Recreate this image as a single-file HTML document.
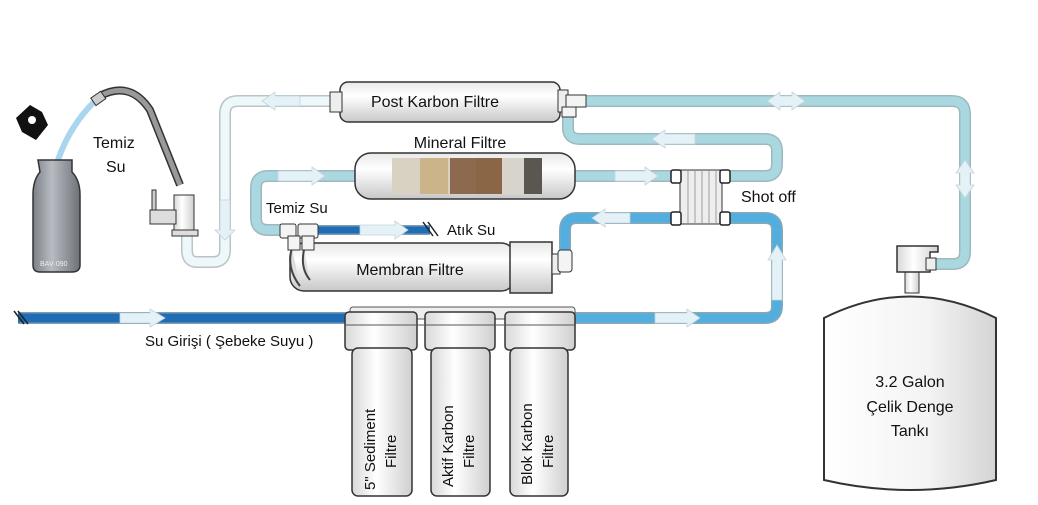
<!DOCTYPE html>
<html><head><meta charset="utf-8"><style>
html,body{margin:0;padding:0;background:#fff;width:1038px;height:505px;overflow:hidden}
svg text{font-family:"Liberation Sans",sans-serif;fill:#111}
</style></head><body>
<svg width="1038" height="505" viewBox="0 0 1038 505" xmlns="http://www.w3.org/2000/svg">
<defs>
<linearGradient id="cyl" x1="0" y1="0" x2="0" y2="1">
<stop offset="0" stop-color="#e8e8e8"/><stop offset="0.35" stop-color="#ffffff"/><stop offset="1" stop-color="#c8c8c8"/></linearGradient>
<linearGradient id="vcyl" x1="0" y1="0" x2="1" y2="0">
<stop offset="0" stop-color="#d8d8d8"/><stop offset="0.4" stop-color="#ffffff"/><stop offset="1" stop-color="#cfcfcf"/></linearGradient>
<linearGradient id="tank" x1="0" y1="0" x2="1" y2="0">
<stop offset="0" stop-color="#ffffff"/><stop offset="0.6" stop-color="#f4f4f4"/><stop offset="1" stop-color="#d4d4d4"/></linearGradient>
<linearGradient id="bottle" x1="0" y1="0" x2="1" y2="0">
<stop offset="0" stop-color="#7c8088"/><stop offset="0.4" stop-color="#b8bcc2"/><stop offset="1" stop-color="#6d7178"/></linearGradient>
</defs>

<!-- pale pipe: post carbon to faucet -->
<g fill="none" stroke-linejoin="round">
<path d="M335,101 H238 Q225,101 225,114 V250 Q225,262 213,262 H197 Q187,262 187,250 V232" stroke="#b9c4c8" stroke-width="12"/>
<path d="M335,101 H238 Q225,101 225,114 V250 Q225,262 213,262 H197 Q187,262 187,250 V232" stroke="#eef7f9" stroke-width="9"/>
<!-- top right teal to tank -->
<path d="M585,101 H952 Q965,101 965,114 V252 Q965,264 953,264 H930" stroke="#9fb8bd" stroke-width="12"/>
<path d="M585,101 H952 Q965,101 965,114 V252 Q965,264 953,264 H930" stroke="#aad8e1" stroke-width="9"/>
<!-- loop from tee to shot off -->
<path d="M568,112 V128 Q568,139 580,139 H765 Q777,139 777,151 V164 Q777,176 765,176 H722" stroke="#9fb8bd" stroke-width="12"/>
<path d="M568,112 V128 Q568,139 580,139 H765 Q777,139 777,151 V164 Q777,176 765,176 H722" stroke="#aad8e1" stroke-width="9"/>
<!-- mineral out -->
<path d="M575,176 H675" stroke="#9fb8bd" stroke-width="12"/>
<path d="M575,176 H675" stroke="#aad8e1" stroke-width="9"/>
<!-- mineral in from membrane -->
<path d="M357,176 H268 Q256,176 256,188 V218 Q256,230 268,230 H282" stroke="#9fb8bd" stroke-width="12"/>
<path d="M357,176 H268 Q256,176 256,188 V218 Q256,230 268,230 H282" stroke="#aad8e1" stroke-width="9"/>
<!-- blue lower loop -->
<path d="M675,218 H577 Q565,218 565,230 V252" stroke="#8aa7b5" stroke-width="12"/>
<path d="M675,218 H577 Q565,218 565,230 V252" stroke="#52aede" stroke-width="9"/>
<path d="M722,218 H765 Q777,218 777,230 V306 Q777,318 765,318 H570" stroke="#8aa7b5" stroke-width="12"/>
<path d="M722,218 H765 Q777,218 777,230 V306 Q777,318 765,318 H570" stroke="#52aede" stroke-width="9"/>
<!-- feed -->
<path d="M18,318 H350" stroke="#7f9cb3" stroke-width="12"/>
<path d="M18,318 H350" stroke="#1f6db5" stroke-width="9"/>
<!-- waste -->
<path d="M315,230 H430" stroke="#7f9cb3" stroke-width="10"/>
<path d="M315,230 H430" stroke="#1f6db5" stroke-width="7"/>
<!-- bottle pipe -->
<path d="M96,100 Q70,125 58,160" stroke="#a9d6ee" stroke-width="6"/>
</g>
<!-- hash marks -->
<g stroke="#222" stroke-width="1.5"><line x1="14" y1="311" x2="24" y2="324"/><line x1="18" y1="311" x2="28" y2="324"/>
<line x1="423" y1="222" x2="433" y2="236"/><line x1="428" y1="222" x2="438" y2="236"/></g>

<!-- arrows -->
<g fill="#e4f2f8" stroke="#c4d4da" stroke-width="0.8">
<polygon points="300,96 275,96 275,92 262,101 275,110 275,106 300,106"/>
<polygon points="220,200 230,200 230,230 235,230 225,240 215,230 220,230"/>
<polygon points="278,171 312,171 312,167 325,176 312,185 312,181 278,181"/>
<polygon points="615,171 645,171 645,167 658,176 645,185 645,181 615,181"/>
<polygon points="695,134 665,134 665,130 652,139 665,148 665,144 695,144" />
<polygon points="630,213 605,213 605,209 592,218 605,227 605,223 630,223"/>
<polygon points="772,300 772,260 768,260 777,245 786,260 782,260 782,300"/>
<polygon points="655,313 687,313 687,309 700,318 687,327 687,323 655,323"/>
<polygon points="120,313 150,313 150,309 165,318 150,327 150,323 120,323"/>
<polygon points="360,225 395,225 395,221 408,230 395,239 395,235 360,235"/>
<polygon points="792,96 780,96 780,92 767,101 780,110 780,106 792,106 792,110 805,101 792,92"/>
<polygon points="960,160 960,148 956,148 965,135 974,148 970,148 970,160 974,160 965,173 956,160" transform="translate(0,25)"/>
</g>

<!-- post carbon filter -->
<rect x="340" y="82" width="220" height="40" rx="8" fill="url(#cyl)" stroke="#333" stroke-width="1.5"/>
<rect x="330" y="92" width="12" height="20" fill="#eee" stroke="#333"/>
<rect x="558" y="90" width="10" height="22" fill="#eee" stroke="#333"/>
<rect x="566" y="95" width="20" height="12" fill="#f4f4f4" stroke="#333"/>
<rect x="562" y="107" width="14" height="10" fill="#f4f4f4" stroke="#333"/>
<text x="435" y="107" font-size="16" text-anchor="middle">Post Karbon Filtre</text>

<!-- mineral filter -->
<text x="460" y="148" font-size="16" text-anchor="middle">Mineral Filtre</text>
<rect x="355" y="153" width="220" height="46" rx="16" fill="url(#cyl)" stroke="#333" stroke-width="1.5"/>
<rect x="392" y="158" width="150" height="36" fill="#d9d2c2"/>
<rect x="420" y="158" width="28" height="36" fill="#cbb48a"/>
<rect x="450" y="158" width="26" height="36" fill="#8d6a4f"/>
<rect x="476" y="158" width="26" height="36" fill="#8a6647"/>
<rect x="502" y="158" width="22" height="36" fill="#d8d4cc"/>
<rect x="524" y="158" width="18" height="36" fill="#5a5650"/>

<!-- shot off -->
<rect x="680" y="170" width="42" height="54" fill="#eee" stroke="#333"/>
<g stroke="#888" stroke-width="0.8"><line x1="688" y1="171" x2="688" y2="223"/><line x1="695" y1="171" x2="695" y2="223"/><line x1="702" y1="171" x2="702" y2="223"/><line x1="709" y1="171" x2="709" y2="223"/><line x1="716" y1="171" x2="716" y2="223"/></g>
<g fill="#fff" stroke="#222" stroke-width="1.5"><rect x="671" y="170" width="10" height="13" rx="2"/><rect x="720" y="170" width="10" height="13" rx="2"/><rect x="671" y="212" width="10" height="13" rx="2"/><rect x="720" y="212" width="10" height="13" rx="2"/></g>
<text x="741" y="202" font-size="16">Shot off</text>

<!-- membrane -->
<text x="266" y="213" font-size="15">Temiz Su</text>
<rect x="290" y="243" width="225" height="48" rx="14" fill="url(#cyl)" stroke="#333" stroke-width="1.5"/>
<rect x="510" y="242" width="42" height="51" fill="url(#cyl)" stroke="#333" stroke-width="1.5"/>
<rect x="552" y="254" width="8" height="20" fill="#eee" stroke="#333"/>
<rect x="558" y="250" width="14" height="22" rx="3" fill="#f4f4f4" stroke="#333"/>
<path d="M292,248 q-6,20 8,38 M304,250 q-4,18 6,30" stroke="#444" stroke-width="2" fill="#ddd"/>
<g fill="#f4f4f4" stroke="#333"><rect x="280" y="224" width="16" height="14" rx="2"/><rect x="298" y="224" width="20" height="14" rx="2"/><rect x="288" y="236" width="12" height="14"/><rect x="302" y="236" width="12" height="14"/></g>
<text x="410" y="275" font-size="16" text-anchor="middle">Membran Filtre</text>
<text x="447" y="235" font-size="15">Atık Su</text>

<!-- filter heads and housings -->
<rect x="350" y="307" width="225" height="12" rx="3" fill="#eee" stroke="#555"/>
<g fill="url(#vcyl)" stroke="#333" stroke-width="1.5">
<rect x="345" y="312" width="72" height="38" rx="4"/>
<rect x="425" y="312" width="70" height="38" rx="4"/>
<rect x="505" y="312" width="70" height="38" rx="4"/>
<rect x="352" y="348" width="60" height="148" rx="6"/>
<rect x="431" y="348" width="59" height="148" rx="6"/>
<rect x="510" y="348" width="58" height="148" rx="6"/>
</g>
<line x1="345" y1="325" x2="575" y2="325" stroke="#555" stroke-width="1"/>
<text font-size="15" transform="translate(375,490) rotate(-90)">5" Sediment</text>
<text font-size="15" transform="translate(396,468) rotate(-90)">Filtre</text>
<text font-size="15" transform="translate(453,487) rotate(-90)">Aktif Karbon</text>
<text font-size="15" transform="translate(474,468) rotate(-90)">Filtre</text>
<text font-size="15" transform="translate(532,485) rotate(-90)">Blok Karbon</text>
<text font-size="15" transform="translate(553,468) rotate(-90)">Filtre</text>
<text x="145" y="346" font-size="15">Su Girişi ( Şebeke Suyu )</text>

<!-- tank -->
<rect x="905" y="268" width="14" height="25" fill="url(#vcyl)" stroke="#333"/>
<path d="M897,246 H938 V252 H930 V272 H897 Z" fill="url(#vcyl)" stroke="#333" stroke-width="1.5"/>
<rect x="926" y="258" width="10" height="12" fill="#eee" stroke="#333"/>
<path d="M824,318 Q910,275 996,318 V480 Q910,500 824,480 Z" fill="url(#tank)" stroke="#333" stroke-width="2"/>
<text x="910" y="387" font-size="16" text-anchor="middle">3.2 Galon</text>
<text x="910" y="412" font-size="16" text-anchor="middle">Çelik Denge</text>
<text x="910" y="436" font-size="16" text-anchor="middle">Tankı</text>

<!-- faucet -->
<path d="M100,96 Q130,80 150,110 L180,185" stroke="#333" stroke-width="8" fill="none"/>
<path d="M100,96 Q130,80 150,110 L180,185" stroke="#999" stroke-width="5" fill="none"/>
<rect x="92" y="94" width="12" height="9" transform="rotate(-35 98 98)" fill="#ccc" stroke="#333"/>
<rect x="174" y="195" width="20" height="35" fill="url(#vcyl)" stroke="#333"/>
<rect x="150" y="210" width="26" height="14" fill="#ddd" stroke="#333"/>
<rect x="152" y="190" width="4" height="20" fill="#ccc" stroke="#333"/>
<rect x="172" y="230" width="26" height="6" fill="#ddd" stroke="#333"/>
<text x="93" y="148" font-size="16">Temiz</text>
<text x="106" y="172" font-size="16">Su</text>

<!-- bottle -->
<path d="M38,160 H72 V172 Q80,180 80,195 V265 Q80,272 72,272 H40 Q33,272 33,265 V195 Q33,180 40,172 Z" fill="url(#bottle)" stroke="#333" stroke-width="1.5"/>
<text x="40" y="266" font-size="7" fill="#eee" style="fill:#eee">BAV·090</text>
<path d="M16,118 L30,105 L42,112 L48,125 L36,140 L22,132 Z" fill="#111"/>
<circle cx="32" cy="120" r="4" fill="#fff"/>
</svg>
</body></html>
